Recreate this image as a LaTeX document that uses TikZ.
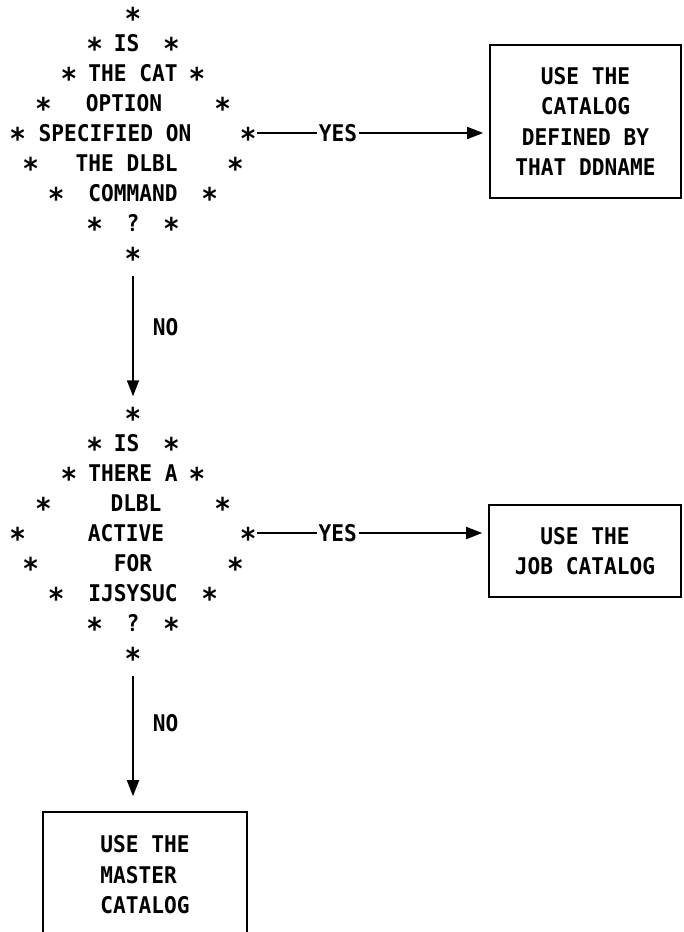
\documentclass[tikz,border=0pt]{standalone}
\usepackage{fontspec}
\newfontfamily\ibmfont[FakeStretch=0.92]{DejaVu Sans Mono}
\usetikzlibrary{arrows.meta}
\begin{document}
\begin{tikzpicture}[x=1pt, y=-1pt,
    every node/.style={font=\ibmfont\bfseries\fontsize{23}{30.5}\selectfont, inner sep=0pt},
    ast/.style={font=\ibmfont\bfseries\fontsize{30}{30}\selectfont, text height=33pt, text depth=0pt},
    txt/.style={text height=16.8pt, text depth=0pt},
    box/.style={draw, line width=1.6pt, align=center},
    arr/.style={line width=1.6pt, -{Triangle[length=16pt,width=12pt]}},
    lbl/.style={fill=white, inner xsep=2pt}]
    \useasboundingbox (0,0) rectangle (683,932);
    \clip (0,0) rectangle (683,932);
    %% star outlines of the two decisions
    \foreach \d/\y in {1/13, 2/413} {
        \node[ast] (t\d) at (133,\y) {*};
        \foreach \r/\k in {1/3, 2/5, 3/7, 4/9, 5/8, 6/6, 7/3} {
            \node[ast] (l\d\r) at ({133-12.8*\k},{\y+30*\r}) {*};
            \node[ast] (r\d\r) at ({133+12.8*\k},{\y+30*\r}) {*};
        }
        \node[ast] (b\d) at (133,{\y+240}) {*};
        \node[txt] (q\d) at (133,{\y+210}) {?};
        \node[txt] (is\d) at (126.6,{\y+30}) {IS};
    }
    %% first question
    \node[txt] (thecat) at (133,73) {THE CAT};
    \node[txt] (option) at (124,103) {OPTION};
    \node[txt] (specon) at (115,133) {SPECIFIED ON};
    \node[txt] (thedlbl) at (126.6,163) {THE DLBL};
    \node[txt] (command) at (133,193) {COMMAND};
    %% second question
    \node[txt] (therea) at (133,473) {THERE A};
    \node[txt] (dlbl) at (136,503) {DLBL};
    \node[txt] (active) at (126,533) {ACTIVE};
    \node[txt] (for) at (133,563) {FOR};
    \node[txt] (ijsysuc) at (133,593) {IJSYSUC};
    %% outcomes
    \node[box, minimum width=191pt, minimum height=153pt] (ddname) at (585.5,121.5)
        {USE THE\\CATALOG\\DEFINED BY\\THAT DDNAME};
    \node[box, minimum width=192pt, minimum height=92pt] (jobcat) at (585,551)
        {USE THE\\JOB CATALOG};
    \node[box, align=left, minimum width=204pt, minimum height=126pt] (mastercat) at (145,875)
        {USE THE\\MASTER\\CATALOG};
    %% flow
    \draw[arr, shorten >=6pt] (r14) -- node[lbl, pos=0.35] {YES} (r14 -| ddname.west);
    \draw[arr, shorten >=6pt] (r24) -- node[lbl, pos=0.35] {YES} (r24 -| jobcat.west);
    \draw[arr, shorten <=6pt] (b1) -- node[right=19pt, pos=0.45] {NO} (t2);
    \draw[arr, shorten <=6pt, shorten >=15pt] (b2) -- node[right=19pt, pos=0.38] {NO} (b2 |- mastercat.north);
\end{tikzpicture}
\end{document}
